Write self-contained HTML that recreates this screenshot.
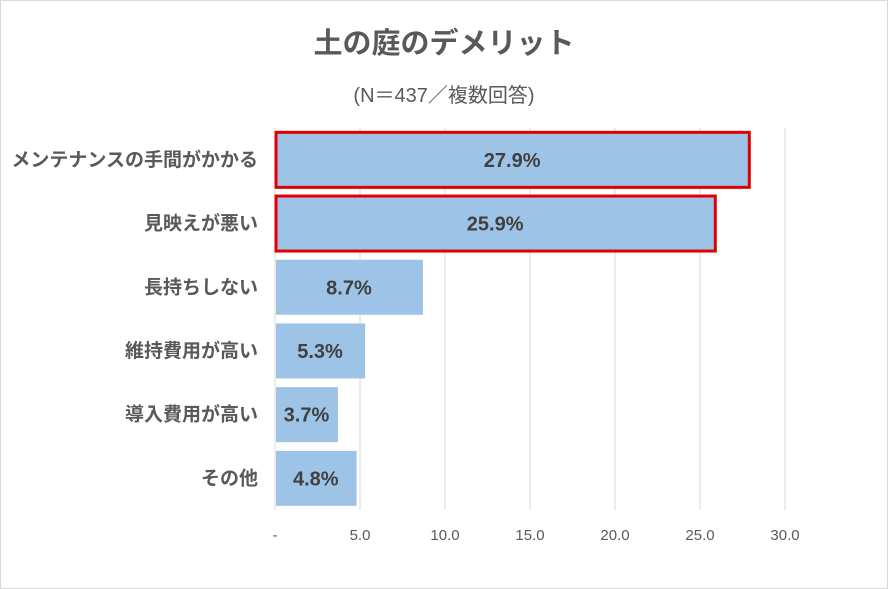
<!DOCTYPE html>
<html><head><meta charset="utf-8"><style>
body{margin:0;background:#fff;}
svg{display:block;font-family:"Liberation Sans","Noto Sans CJK JP",sans-serif;}
</style></head><body>
<svg id="c" width="888" height="589">
<rect x="0.5" y="0.5" width="887" height="588" fill="#fff" stroke="#d9d9d9"/>
<text x="444" y="53" text-anchor="middle" font-size="29" font-weight="bold" fill="#595959">土の庭のデメリット</text>
<text x="444" y="102" text-anchor="middle" font-size="20" fill="#595959">(N＝437／複数回答)</text>
<g id="grid"></g><g id="bars"></g><g id="labels"></g><g id="ticks"></g>
</svg>
<script>
const categories=["メンテナンスの手間がかかる","見映えが悪い","長持ちしない","維持費用が高い","導入費用が高い","その他"];
const values=[27.9,25.9,8.7,5.3,3.7,4.8];
const highlighted=[true,true,false,false,false,false];
const ticks=[0,5,10,15,20,25,30];
const tickLabels=["-","5.0","10.0","15.0","20.0","25.0","30.0"];
const ns="http://www.w3.org/2000/svg";
const x0=275,pxPer=17,top0=128,rowH=63.7,barH=55;
const xs=v=>x0+v*pxPer;
function mk(t,a,p){const e=document.createElementNS(ns,t);for(const k in a)e.setAttribute(k,a[k]);document.getElementById(p).appendChild(e);return e;}
ticks.forEach((t,i)=>{
 const l=mk("line",{x1:xs(t),x2:xs(t),y1:top0,y2:510,stroke:"#d9d9d9"},"grid");
 
 
 const tx=mk("text",{x:xs(t),y:540,"text-anchor":"middle","font-size":"15",fill:"#595959"},"ticks");
 tx.textContent=tickLabels[i];
 
 
});
categories.forEach((c,i)=>{
 const yc=top0+rowH*(i+0.5);
 const r=mk("rect",{x:x0+1,y:yc-barH/2,width:xs(values[i])-x0-1,height:barH,fill:"#9dc3e6",stroke:highlighted[i]?"#e00000":"none","stroke-width":highlighted[i]?3:0},"bars");
 
 
 const v=mk("text",{x:(x0+xs(values[i]))/2,y:yc+7,"text-anchor":"middle","font-size":"20","font-weight":"bold",fill:"#404040"},"labels");
 v.textContent=values[i].toFixed(1)+"%";
 
 
 const cl=mk("text",{x:258,y:yc+6,"text-anchor":"end","font-size":"19","font-weight":"bold",fill:"#595959"},"labels");
 cl.textContent=c;
 
 
});
</script>
</body></html>
